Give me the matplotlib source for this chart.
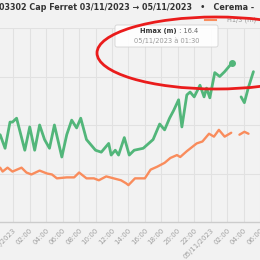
import numpy as np
import matplotlib.pyplot as plt
from matplotlib.patches import Ellipse, FancyBboxPatch

# heures depuis le 04/11/2023 00:00 ; nan = trou dans les mesures
hmax_t = [-1.6, -1.0, -0.4, -0.1, 0.4, 1.4, 2.0, 2.6, 3.2, 3.8, 4.4, 5.0, 5.9, 6.5,
          7.1, 7.7, 8.2, 8.9, 9.5, 10.0, 10.7, 11.6, 11.9, 12.4, 12.8, 13.5, 14.1,
          14.7, 15.8, 17.0, 17.8, 18.4, 19.0, 19.5, 20.1, 20.5, 21.1, 21.5, 22.0,
          22.7, 23.2, 23.5, 23.9, 24.5, 25.1, 25.7, 26.6, 27.2, 27.7, 28.1, 28.6, 29.2]
hmax_v = [9.0, 7.6, 10.3, 10.3, 10.7, 7.4, 9.8, 7.4, 10.0, 8.5, 7.6, 10.0, 6.7, 9.0,
          10.5, 9.7, 10.7, 8.5, 7.9, 7.4, 7.2, 8.1, 6.9, 7.4, 6.9, 8.7, 6.9,
          7.4, 7.6, 8.5, 10.1, 9.5, 10.7, 11.5, 12.6, 9.8, 13.1, 13.4, 12.9,
          14.1, 12.9, 13.8, 12.8, 15.4, 15.0, 15.5, 16.4, np.nan, 12.9, 12.3, 13.9, 15.5]

h13_t = [-1.6, -1.3, -0.7, -0.1, 1.0, 1.6, 2.2, 3.2, 4.1, 4.7, 5.3, 6.5, 7.4, 8.0,
         8.9, 9.8, 10.4, 11.3, 12.2, 13.1, 13.7, 14.0, 14.8, 16.0, 16.7, 17.5, 18.4,
         19.1, 19.9, 20.3, 21.1, 22.3, 23.0, 23.8, 24.4, 25.0, 25.7, 26.5, 27.0,
         27.5, 28.1, 28.6]
h13_v = [5.6, 5.2, 5.6, 5.2, 5.6, 5.1, 4.9, 5.3, 5.0, 4.9, 4.5, 4.6, 4.6, 5.1,
         4.5, 4.5, 4.3, 4.7, 4.5, 4.3, 4.0, 3.8, 4.5, 4.5, 5.4, 5.7, 6.1,
         6.6, 6.9, 6.7, 7.3, 8.1, 8.3, 9.1, 8.8, 9.5, 8.8, 9.2, np.nan,
         9.0, 9.3, 9.1]

ticks = np.arange(0, 32, 2)
tick_labels = ['04/11/2023', '02:00', '04:00', '06:00', '08:00', '10:00', '12:00',
               '14:00', '16:00', '18:00', '20:00', '22:00', '05/11/2023', '02:00',
               '04:00', '06:00']

W = 260
def fx(px):
    return px / W
def fy(py):
    return 1 - py / W

bg = '#f2f2f2'
fig = plt.figure(figsize=(2.6, 2.6), dpi=100, facecolor=bg)
ax = fig.add_axes([0, fy(222), 1, fy(28) - fy(222)], facecolor=bg)

ax.plot(h13_t, h13_v, color='#f98c5c', lw=1.7, solid_capstyle='round', solid_joinstyle='round', zorder=3)
ax.plot(hmax_t, hmax_v, color='#52b67a', lw=2.0, solid_capstyle='round', solid_joinstyle='round', zorder=4)
ax.plot(hmax_t[46], hmax_v[46], 'o', color='#52b67a', ms=4, zorder=5)

ax.set_xlim((0 - 13.5) / 8.35, (260 - 13.5) / 8.35)
ax.set_ylim(0, 20)
ax.set_yticks([5, 10, 15, 20])
ax.set_xticks(ticks)
ax.set_xticklabels(tick_labels, rotation=45, ha='right', va='top', rotation_mode='anchor',
                   fontsize=5, color='#a0a0a0')
ax.tick_params(axis='x', length=0, pad=3.5)
ax.tick_params(axis='y', length=0, labelleft=False)
ax.grid(True, color='#e1e1e1', lw=0.8)
ax.set_axisbelow(True)
for s in ['top', 'left', 'right']:
    ax.spines[s].set_visible(False)
ax.spines['bottom'].set_color('#cccccc')
ax.spines['bottom'].set_linewidth(1)

# titre (coupé à gauche et à droite)
fig.text(fx(-1), fy(8), '03302 Cap Ferret 03/11/2023 \u2192 05/11/2023   \u2022   Cerema -',
         fontsize=5.8, fontweight='bold', color='#333333', va='center', ha='left')

# légende
fig.add_artist(plt.Line2D([fx(205), fx(216)], [fy(20), fy(20)], color='#f98c5c', lw=1.5))
fig.text(fx(227), fy(20), 'H1/3 (m)', fontsize=4.8, color='#999999', va='center')

# infobulle
box = FancyBboxPatch((fx(115), fy(47)), fx(103), 22 / W, boxstyle='round,pad=0,rounding_size=0.008',
                     transform=fig.transFigure, facecolor='white', alpha=0.9,
                     edgecolor='#cfcfcf', lw=0.6, zorder=6)
fig.add_artist(box)
fig.text(fx(177), fy(31), 'Hmax (m)', fontsize=4.8, fontweight='bold', color='#333333',
         ha='right', va='center', zorder=7)
fig.text(fx(177), fy(31), ' : 16.4', fontsize=4.8, color='#666666', ha='left', va='center', zorder=7)
fig.text(fx(167), fy(41), '05/11/2023 \u00e0 01:30', fontsize=4.8, color='#999999',
         ha='center', va='center', zorder=7)

# cercle rouge
ell = Ellipse((fx(216), fy(53)), fx(238), 72 / W, transform=fig.transFigure,
              fill=False, edgecolor='#ea1c1c', lw=2.0, zorder=8)
fig.add_artist(ell)

fig.savefig('out.png', dpi=100, facecolor=bg)
